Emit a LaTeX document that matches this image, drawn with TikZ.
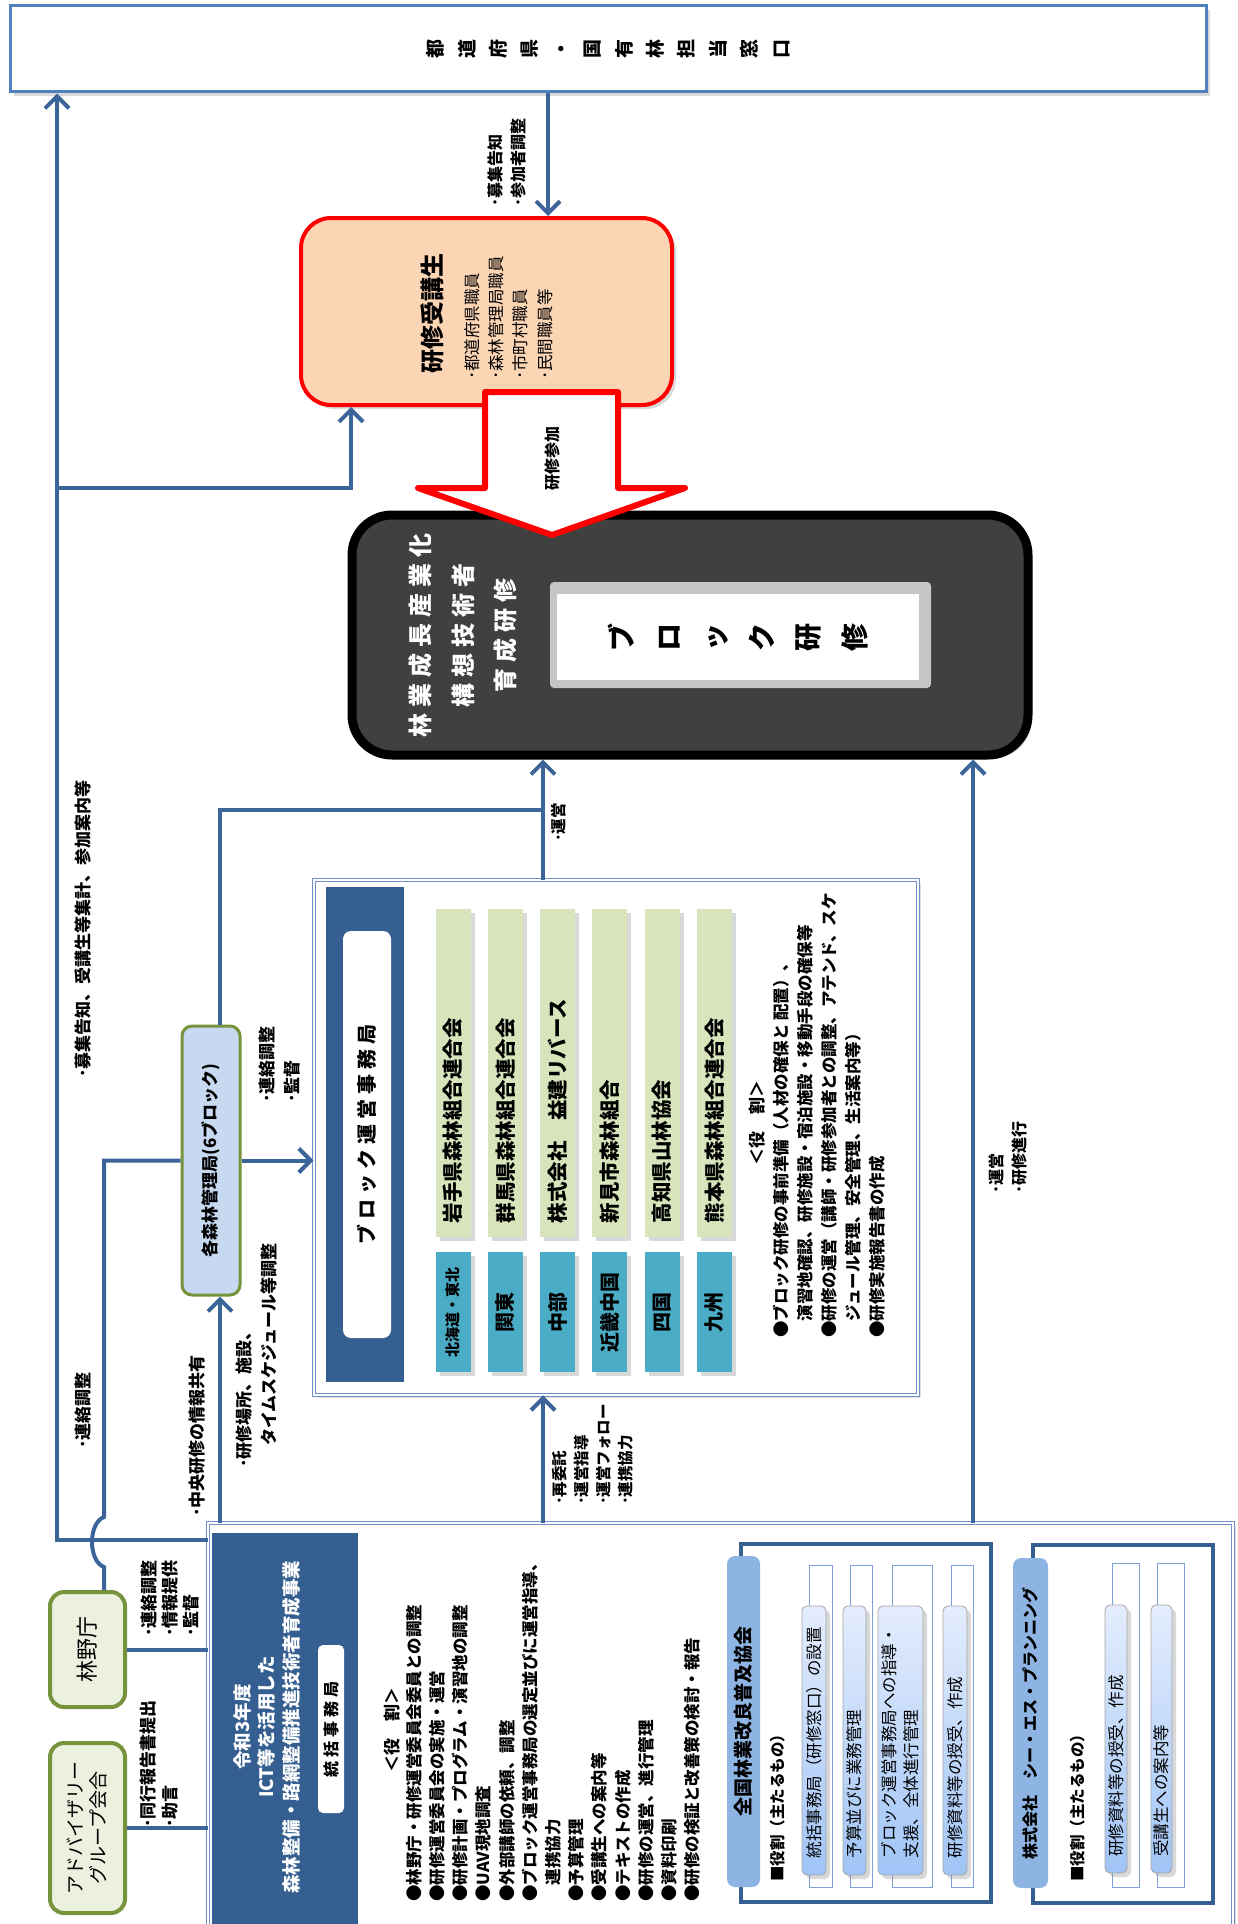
\documentclass[tikz,border=0pt]{standalone}
\usepackage{fontspec}
\setmainfont{Noto Sans CJK JP}
\usetikzlibrary{positioning,arrows.meta,shadows}

\definecolor{lineblue}{RGB}{59,100,152}
\definecolor{prefblue}{RGB}{79,129,189}
\definecolor{peach}{RGB}{252,213,181}
\definecolor{coursegray}{RGB}{64,64,64}
\definecolor{panelblue}{RGB}{54,95,145}
\definecolor{greenbar}{RGB}{216,228,188}
\definecolor{tealbox}{RGB}{75,172,198}
\definecolor{bureaufill}{RGB}{198,217,241}
\definecolor{leafgreen}{RGB}{119,147,60}
\definecolor{palegreen}{RGB}{235,241,222}
\definecolor{headblue}{RGB}{142,180,227}
\definecolor{pilllight}{RGB}{228,237,253}
\definecolor{pilldark}{RGB}{160,196,246}
\definecolor{pillline}{RGB}{126,161,216}
\definecolor{frameblue}{RGB}{110,146,200}
\definecolor{groupblue}{RGB}{55,96,146}

\newcommand{\fs}[2]{\fontsize{#1}{#2}\selectfont}
% letter spacing for spaced-out titles
\newcommand{\spread}[2]{\def\spreadgap{#1}\spreadfirst#2\relax}
\def\spreadfirst#1{#1\spreadrest}
\def\spreadrest#1{\ifx#1\relax\else\hspace{\spreadgap}#1\expandafter\spreadrest\fi}

\begin{document}
\begin{tikzpicture}[x=1pt, y=1pt,
    every node/.append style={rotate=90},
    % connectors
    link/.style={draw=lineblue, line width=4},
    arr/.style={link, -{Straight Barb[length=12pt, width=24pt]}},
    bigarrow/.style={draw=red, line width=6, fill=white, line join=round},
    softshadow/.style={drop shadow={opacity=0.3, shadow xshift=4, shadow yshift=-4}},
    % boxes
    prefbox/.style={draw=prefblue, line width=3, fill=white, inner sep=0, align=center,
        minimum width=86, minimum height=1196, font={\fs{19}{31.4}\bfseries}, softshadow},
    trainbox/.style={draw=red, line width=4, fill=peach, rounded corners=30,
        minimum width=187, minimum height=371, inner sep=0, softshadow},
    coursebox/.style={draw=black, line width=9, fill=coursegray, rounded corners=40,
        minimum width=240, minimum height=676, softshadow},
    coursetxt/.style={text=white, align=center, inner sep=0, font={\fs{24}{42.5}\bfseries}},
    bevelbox/.style={fill=gray!45, rounded corners=4, minimum width=106, minimum height=381, inner sep=0},
    blocktitle/.style={fill=white, minimum width=86, minimum height=362, inner sep=0,
        align=center, font={\fs{28}{46.6}\bfseries}},
    bureaubox/.style={draw=leafgreen, line width=3, fill=bureaufill, rounded corners=10,
        minimum width=269, minimum height=58, inner sep=0, font={\fs{17}{17}\bfseries}},
    greenbox/.style={draw=leafgreen, line width=4, fill=palegreen, rounded corners=14,
        minimum height=75, inner sep=0, align=center},
    outerframe/.style={draw=frameblue, line width=0.8, double=white, double distance=2.2,
        fill=white, inner sep=0, drop shadow={opacity=0.25, shadow xshift=3, shadow yshift=-3}},
    panel/.style={fill=panelblue, inner sep=0},
    whitelabel/.style={fill=white, rounded corners=8, inner sep=0},
    member/.style={fill=greenbar, minimum width=328, minimum height=35, text width=300,
        align=left, inner sep=0, font={\fs{20.5}{20.5}\bfseries}, softshadow},
    region/.style={fill=tealbox, minimum width=120, minimum height=35, inner sep=0,
        font={\fs{20}{20}\bfseries}, softshadow},
    roletitle/.style={inner sep=0, font={\fs{17}{17}\bfseries}},
    rolelist/.style={inner sep=0, align=left, anchor=north west},
    groupbox/.style={draw=groupblue, line width=3.5, fill=white, inner sep=0},
    grouphead/.style={fill=headblue, rounded corners=8, inner sep=0, font={\fs{19}{19}\bfseries}},
    pillframe/.style={draw=pillline, line width=1, fill=white, minimum width=322, inner sep=0},
    pill/.style={draw=gray!70, line width=0.8, top color=pilllight, bottom color=pilldark,
        rounded corners=5, minimum width=269, text width=235, align=left, inner sep=0,
        font={\fs{16.5}{22}}, softshadow},
    note/.style={inner sep=0, align=left, font={\fs{16}{23}\bfseries}}
]
    \clip (0,0) rectangle (1237,-1924);

    % Prefecture window
    \node[prefbox] (pref) at (608,-49) {都\\道\\府\\県\\・\\国\\有\\林\\担\\当\\窓\\口};

    % Trainees
    \node[trainbox] (trainee) at (486.5,-311.5) {};
    \node[inner sep=0, font={\fs{24}{24}\bfseries}] (traineetitle) at (432,-313) {研修受講生};
    \node[note, anchor=west, font={\fs{16.5}{24.3}}] (traineelist) at (508.5,-380)
        {･都道府県職員\\･森林管理局職員\\･市町村職員\\･民間職員等};

    % Course
    \node[coursebox] (course) at (690,-635) {};
    \node[coursetxt] (coursetitle) at (463,-635)
        {\spread{6pt}{林業成長産業化}\\\spread{6pt}{構想技術者}\\\spread{6pt}{育成研修}};
    \node[bevelbox] (blockbevel) at (740.5,-635) {};
    \node[blocktitle] (blocktitle) at (738,-637) {ブ\\ロ\\ッ\\ク\\研\\修};

    % Join arrow
    \draw[bigarrow] (485,-392) -- (618,-392) -- (618,-488) -- (685,-488) -- (552,-535)
        -- (418,-488) -- (485,-488) -- cycle;
    \node[note, font={\fs{16}{16}\bfseries}] (joinlabel) at (552,-458) {研修参加};

    % Regional forest offices
    \node[bureaubox] (bureau) at (211,-1160.5) {各森林管理局(6ブロック)};

    % Block secretariat
    \node[outerframe, minimum width=515, minimum height=604] (blockfr) at (616,-1137.5) {};
    \node[panel, minimum width=495, minimum height=78] (blockpanel) at (365,-1134.5) {};
    \node[whitelabel, minimum width=407, minimum height=48, font={\fs{20}{20}\bfseries}]
        (blocklabel) at (367,-1134.5) {\spread{5pt}{ブロック運営事務局}};
    \foreach \name [count=\i from 0] in {岩手県森林組合連合会, 群馬県森林組合連合会,
        株式会社　益建リバース, 新見市森林組合, 高知県山林協会, 熊本県森林組合連合会}
        \node[member] (member\i) at ({453+52.3*\i},-1073) {\name};
    \foreach \name [count=\i from 0] in {{\fs{15}{15}北海道・東北}, 関東, 中部, 近畿中国, 四国, 九州}
        \node[region] (region\i) at ({453+52.3*\i},-1312) {\name};
    \node[roletitle] (blockrole) at (757,-1123) {＜役　割＞};
    \node[rolelist, font={\fs{16.5}{24}\bfseries}] (blockduty) at (773,-1338)
        {●ブロック研修の事前準備（人材の確保と 配置）、\\
         　演習地確認、研修施設・宿泊施設・移動手段の確保等\\
         ●研修の運営（講師・研修参加者との調整、アテンド、スケ\\
         　ジュール管理、安全管理、生活案内等）\\
         ●研修実施報告書の作成};

    % Forestry Agency and advisory group
    \node[greenbox, minimum width=115, font={\fs{22}{22}}] (rinya) at (87.5,-1649.5) {林野庁};
    \node[greenbox, minimum width=170, font={\fs{19}{23}}] (advisory) at (87.5,-1828)
        {アドバイザリー\\グループ会合};

    % Head secretariat
    \node[outerframe, minimum width=417, minimum height=1025] (mainfr) at (720.5,-1731.5) {};
    \node[panel, minimum width=397, minimum height=146] (hq) at (285,-1731.5) {};
    \node[coursetxt, font={\fs{18.5}{24.5}\bfseries}] (hqtitle) at (267,-1727)
        {令和3年度\\ICT等を活用した\\森林整備・路網整備推進技術者育成事業};
    \node[whitelabel, rounded corners=5, minimum width=168, minimum height=26,
        font={\fs{16}{16}\bfseries}] (hqlabel) at (331,-1729) {\spread{4pt}{統括事務局}};
    \node[roletitle] (hqrole) at (392,-1730) {＜役　割＞};
    \node[rolelist, font={\fs{16.5}{23.2}\bfseries}] (hqduty) at (406,-1902)
        {●林野庁・研修運営委員会委員との調整\\
         ●研修運営委員会の実施・運営\\
         ●研修計画・プログラム・演習地の調整\\
         ●UAV現地調査\\
         ●外部講師の依頼、調整\\
         ●ブロック運営事務局の選定並びに運営指導、\\
         　連携協力\\
         ●予算管理\\
         ●受講生への案内等\\
         ●テキストの作成\\
         ●研修の運営、進行管理\\
         ●資料印刷\\
         ●研修の検証と改善策の検討・報告};

    % Zenrin kyokai
    \node[groupbox, minimum width=358, minimum height=250] (zenrin) at (866,-1723) {};
    \node[grouphead, minimum width=331, minimum height=33] (zenrinhead) at (743.5,-1721.5) {全国林業改良普及協会};
    \node[note, anchor=west, font={\fs{15.5}{15.5}\bfseries}] (zenrinrole) at (778,-1882) {■役割（主たるもの）};
    \foreach \x/\h in {820.5/23, 861/22, 912/40, 962/22}
        \node[pillframe, minimum height=\h] at (\x,-1726) {};
    \node[pill, minimum height=24] (zenrinpill1) at (814,-1740.5) {統括事務局（研修窓口）の設置};
    \node[pill, minimum height=23] (zenrinpill2) at (854.5,-1740.5) {予算並びに業務管理};
    \node[pill, minimum height=45] (zenrinpill3) at (900.5,-1740.5) {ブロック運営事務局への指導・\\支援、全体進行管理};
    \node[pill, minimum height=24] (zenrinpill4) at (955,-1740.5) {研修資料等の授受、作成};

    % CS planning
    \node[groupbox, minimum width=358, minimum height=180] (csp) at (1123,-1724) {};
    \node[grouphead, minimum width=330, minimum height=35, font={\fs{16}{16}\bfseries}]
        (csphead) at (1030.5,-1723) {株式会社　シー・エス・プランニング};
    \node[note, anchor=west, font={\fs{15.5}{15.5}\bfseries}] (csprole) at (1078,-1882) {■役割（主たるもの）};
    \foreach \x in {1125.5, 1170.5}
        \node[pillframe, minimum width=324, minimum height=27] at (\x,-1725) {};
    \node[pill, minimum width=268, minimum height=22] (csppill1) at (1116,-1739) {研修資料等の授受、作成};
    \node[pill, minimum width=268, minimum height=21] (csppill2) at (1161.5,-1739) {受講生への案内等};

    % Connector helpers
    \coordinate (xa) at (548,0);
    \coordinate (xl) at (57,0);
    \coordinate (yl) at (0,-1540);
    \coordinate (yt) at (0,-488);
    \coordinate (xt) at (351,0);
    \coordinate (xr) at (104,0);
    \coordinate (hopA) at (104,-1567);
    \coordinate (hopB) at (104,-1517);
    \coordinate (xb) at (220,0);
    \coordinate (xm) at (543,0);
    \coordinate (ym) at (0,-810);
    \coordinate (xk) at (973,0);

    % Connectors
    \draw[arr] (pref.west -| xa) -- (trainee.east -| xa);
    \draw[arr] (mainfr.north |- yl) -| (pref.west -| xl);
    \draw[arr] (xl |- yt) -| (trainee.west -| xt);
    \draw[link] (rinya.east -| xr) -- (hopA) .. controls (88,-1561) and (88,-1523) .. (hopB) |- (bureau.north);
    \draw[link] (rinya.south) -- (mainfr.north |- rinya.south);
    \draw[link] (advisory.south) -- (mainfr.north |- advisory.south);
    \draw[arr] (mainfr.east -| xb) -- (bureau.west -| xb);
    \draw[arr] (bureau.south) -- (blockfr.north |- bureau.south);
    \draw[link] (bureau.east -| xb) |- (xm |- ym);
    \draw[arr] (blockfr.east -| xm) -- (course.west -| xm);
    \draw[arr] (mainfr.east -| xm) -- (blockfr.west -| xm);
    \draw[arr] (mainfr.east -| xk) -- (course.west -| xk);

    % Connector labels
    \node[note, anchor=west] (lab1) at (506.5,-207) {･募集告知\\･参加者調整};
    \node[note, anchor=west, font={\fs{15.5}{15.5}\bfseries}] (lab2) at (559,-842) {･運営};
    \node[note, anchor=west] (lab3) at (1008,-1194) {･運営\\･研修進行};
    \node[note, anchor=west, font={\fs{17}{17}\bfseries}] (lab4) at (83,-1078) {･募集告知、受講生等集計、参加案内等};
    \node[note, anchor=west, font={\fs{17}{17}\bfseries}] (lab5) at (83,-1449) {･連絡調整};
    \node[note, anchor=west, font={\fs{17}{25}\bfseries}] (lab6) at (280,-1103) {･連絡調整\\･監督};
    \node[note, anchor=west, font={\fs{17}{17}\bfseries}] (lab7) at (197,-1517) {･中央研修の情報共有};
    \node[note, anchor=west, font={\fs{17}{25}\bfseries}] (lab8) at (257,-1468)
        {･研修場所、施設、\\\hspace*{22pt}タイムスケジュール等調整};
    \node[note, anchor=west, font={\fs{15.5}{22}\bfseries}] (lab9) at (593,-1505)
        {･再委託\\･運営指導\\･運営フォロー\\･連携協力};
    \node[note, anchor=west, font={\fs{17}{21}\bfseries}] (lab10) at (170,-1637) {･連絡調整\\･情報提供\\･監督};
    \node[note, anchor=west, font={\fs{17}{22}\bfseries}] (lab11) at (159,-1828) {･同行報告書提出\\･助言};
\end{tikzpicture}
\end{document}
